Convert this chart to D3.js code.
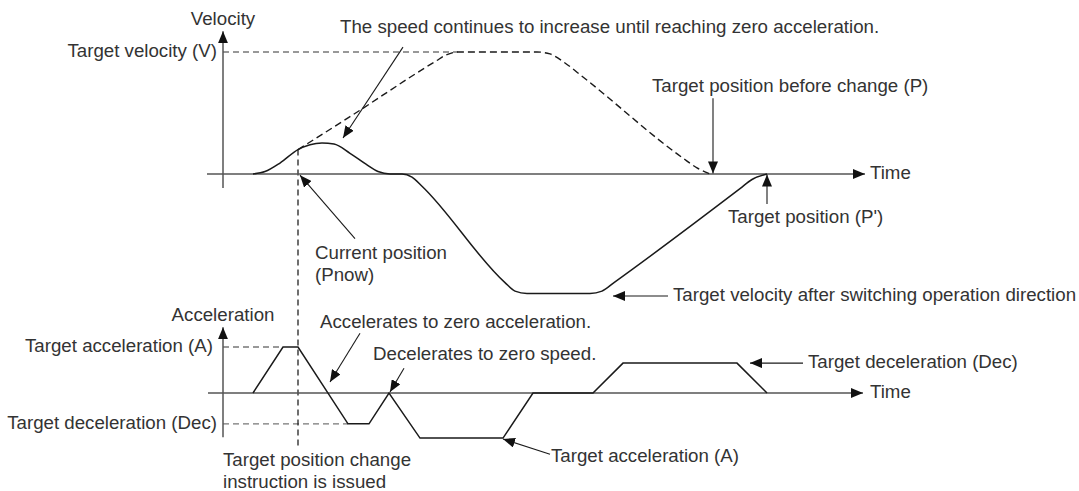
<!DOCTYPE html>
<html>
  <head>
    <meta charset="utf-8">
    <title>Target position change: velocity and acceleration</title>
    <script src="https://cdn.jsdelivr.net/npm/d3@7"></script>
    <style>
      body { margin: 0; background: #fff; }
      svg { display: block; }
      text { font-family: "Liberation Sans", Arial, sans-serif; font-size: 18.7px; fill: #333; }
      .axis { stroke: #555; stroke-width: 1.5; fill: none; }
      .curve { stroke: #1a1a1a; stroke-width: 1.5; fill: none; }
      .dashed { stroke: #1a1a1a; stroke-width: 1.4; fill: none; stroke-dasharray: 7 4; }
      .guide { stroke: #777; stroke-width: 1.3; fill: none; stroke-dasharray: 6 4; }
      .pointer { stroke: #1a1a1a; stroke-width: 1.1; fill: none; }
    </style>
  </head>
  <body>
    <svg id="chart" width="1079" height="491"></svg>
    <script>
      // time in ms, velocity and acceleration in % of target (V / A)
      const velTime = [15, 21, 28.5, 37.5, 43.5, 49.5, 55.5, 63.5, 71.5, 77.5, 83.5, 89.5, 94.5, 99.5, 141, 146, 152, 183.5, 189.5, 195.5, 258.5, 264.5, 272];
      const velValue = [0, 2, 9, 20, 24, 25.4, 24.6, 17, 8, 2, 0, 0, -2.5, -10, -89, -96, -98, -98, -96, -89, -12, -4.5, 0];
      const oldVelTime = [37.5, 63.5, 106.5, 111.5, 117.5, 157, 163.5, 171, 180, 230, 237, 243.5];
      const oldVelValue = [20, 47, 92.6, 97.5, 100, 100, 98.4, 91, 79.5, 13, 5, 0];
      const accTime = [15, 30, 37.5, 62.5, 73, 83, 98.5, 140, 155, 185, 200, 257, 272];
      const accValue = [0, 100, 100, -67, -67, 0, -98, -98, 0, 0, 65, 65, 0];
      const changeTime = 37.5;
      const targetVel = 100;
      const targetAcc = 100;
      const targetDec = -67;

      // annotations: [text lines, text t, text value, pointer from t, from value, to t, to value]
      const velNotes = [
        [["The speed continues to increase until reaching zero acceleration."], 58.5, 120, 90, 104, 60, 29.5],
        [["Target position before change (P)"], 214.5, 71.3, 245, 62, 245, 0.5],
        [["Target position (P')"], 252.5, -36, 272, -24.6, 272, -0.5],
        [["Current position", "(Pnow)"], 46, -65.6, 66, -53, 38.5, -1],
        [["Target velocity after switching operation direction"], 225, -100, 222.5, -100, 195, -100]
      ];
      const accNotes = [
        [["Accelerates to zero acceleration."], 48.5, 152, 68.5, 130, 53.5, 24],
        [["Decelerates to zero speed."], 75, 82.6, 90.5, 54, 83.5, 2],
        [["Target acceleration (A)"], 164, -139, 163.5, -133, 140, -100],
        [["Target deceleration (Dec)"], 292.5, 65, 290, 65, 263.5, 65],
        [["Target position change", "instruction is issued"], 0, -148, null, null, null, null]
      ];

      svg = d3.select("#chart");
      // scales
      x = d3.scaleLinear().domain([0, 320]).range([223, 863]);
      yVel = d3.scaleLinear().domain([0, 100]).range([174, 52]);
      yAcc = d3.scaleLinear().domain([0, 100]).range([393, 347]);

      // arrowhead
      svg.append("defs").append("marker")
          .attr("id", "head")
          .attr("viewBox", "0 0 12 10")
          .attr("refX", 12)
          .attr("refY", 5)
          .attr("markerUnits", "userSpaceOnUse")
          .attr("markerWidth", 12)
          .attr("markerHeight", 10)
          .attr("orient", "auto")
        .append("path")
          .attr("d", "M0,0L12,5L0,10Z")
          .attr("fill", "#111");

      function segment(t0, v0, t1, v1, y, cls, arrow) {
        let l = svg.append("line")
          .classed(cls, true)
          .attr("x1", x(t0)).attr("y1", y(v0))
          .attr("x2", x(t1)).attr("y2", y(v1));
        if (arrow) l.attr("marker-end", "url(#head)");
        return l;
      }

      function label(lines, t, v, y, anchor) {
        let txt = svg.append("text")
          .attr("x", x(t))
          .attr("y", y(v))
          .attr("text-anchor", anchor || "start")
          .attr("dominant-baseline", "middle");
        lines.forEach(function(s, i) {
          txt.append("tspan")
            .attr("x", x(t))
            .attr("dy", i ? 22 : 0)
            .text(s);
        });
      }

      // guides
      segment(0, targetVel, 117.5, targetVel, yVel, "guide");
      segment(0, targetAcc, 30, targetAcc, yAcc, "guide");
      segment(0, targetDec, 62.5, targetDec, yAcc, "guide");
      svg.append("line")
        .classed("guide", true)
        .style("stroke", "#222")
        .attr("x1", x(changeTime)).attr("x2", x(changeTime))
        .attr("y1", yVel(20)).attr("y2", yAcc(-115));

      // axes
      segment(0, -11.5, 0, 117, yVel, "axis", true);
      segment(-8, 0, 321, 0, yVel, "axis", true);
      segment(0, -96, 0, 143, yAcc, "axis", true);
      segment(-7.5, 0, 320, 0, yAcc, "axis", true);

      // curves
      velLine = d3.line()
        .x(function(d) { return x(d[0]); })
        .y(function(d) { return yVel(d[1]); })
        .curve(d3.curveMonotoneX);
      svg.append("path")
        .classed("dashed", true)
        .attr("d", velLine(d3.zip(oldVelTime, oldVelValue)));
      svg.append("path")
        .classed("curve", true)
        .attr("d", velLine(d3.zip(velTime, velValue)));
      accLine = d3.line()
        .x(function(d) { return x(d[0]); })
        .y(function(d) { return yAcc(d[1]); });
      svg.append("path")
        .classed("curve", true)
        .attr("d", accLine(d3.zip(accTime, accValue)));

      // axis labels
      label(["Velocity"], 0, 126, yVel, "middle");
      label(["Target velocity (V)"], -3, targetVel, yVel, "end");
      label(["Time"], 323.5, 0, yVel);
      label(["Acceleration"], 0, 168, yAcc, "middle");
      label(["Target acceleration (A)"], -5, targetAcc, yAcc, "end");
      label(["Target deceleration (Dec)"], -3, targetDec, yAcc, "end");
      label(["Time"], 323.5, 0, yAcc);

      // annotations
      velNotes.forEach(function(n) {
        label(n[0], n[1], n[2], yVel);
        if (n[3] !== null) segment(n[3], n[4], n[5], n[6], yVel, "pointer", true);
      });
      accNotes.forEach(function(n) {
        label(n[0], n[1], n[2], yAcc);
        if (n[3] !== null) segment(n[3], n[4], n[5], n[6], yAcc, "pointer", true);
      });
    </script>
  </body>
</html>
